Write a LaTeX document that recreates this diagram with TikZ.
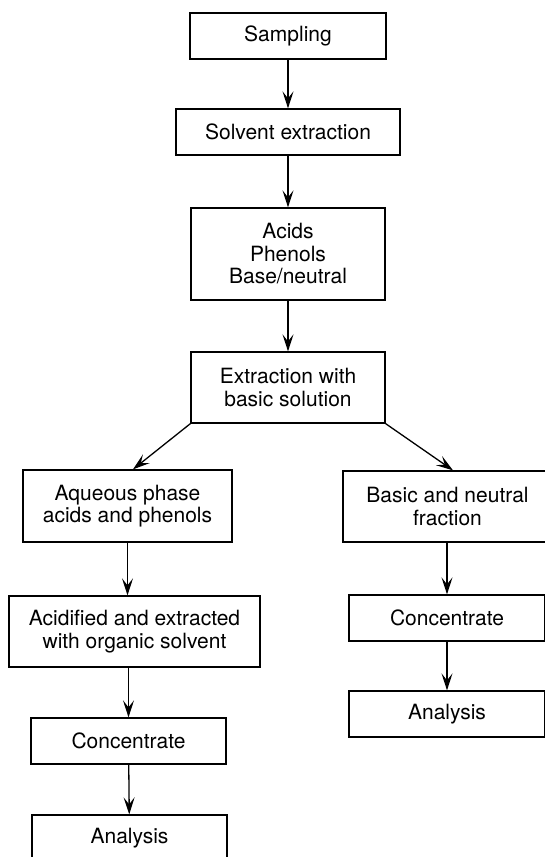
\documentclass[tikz,border=0pt]{standalone}
\usepackage{fontspec}
\setmainfont{TeX Gyre Heros}
\usetikzlibrary{arrows.meta,calc}
\begin{document}
\begin{tikzpicture}[x=1pt,y=-1pt,
  box/.style={draw, line width=1.3pt, inner sep=0pt, align=center,
    font=\fontsize{21}{22.5}\selectfont},
  arr/.style={line width=1.3pt, -{Stealth[length=17pt,width=11pt,inset=7pt]}}]
\useasboundingbox (0,0) rectangle (544,857);
\node[box, minimum width=196pt, minimum height=46pt] (samp) at (288,36) {Sampling};
\node[box, minimum width=224pt, minimum height=46pt] (solv) at (288,132) {Solvent extraction};
\node[box, minimum width=194pt, minimum height=92pt] (acids) at (288,254) {Acids\\Phenols\\Base/neutral};
\node[box, minimum width=194pt, minimum height=71pt] (extr) at (288,387.5) {Extraction with\\basic solution};
\node[box, minimum width=209pt, minimum height=72pt] (aque) at (127.5,506) {Aqueous phase\\acids and phenols};
\node[box, minimum width=209pt, minimum height=71pt] (basic) at (447.5,506.5) {Basic and neutral\\fraction};
\node[box, minimum width=251pt, minimum height=71pt] (acidi) at (134.5,631.5) {Acidified and extracted\\with organic solvent};
\node[box, minimum width=195pt, minimum height=46pt] (concL) at (128.5,741) {Concentrate};
\node[box, minimum width=195pt, minimum height=46pt] (analL) at (129.5,838) {Analysis};
\node[box, minimum width=196pt, minimum height=46pt] (concR) at (447,618) {Concentrate};
\node[box, minimum width=196pt, minimum height=46pt] (analR) at (447,714) {Analysis};
\draw[arr] (samp) -- (solv);
\draw[arr] (solv) -- (acids);
\draw[arr] (acids) -- (extr);
\draw[arr] (extr.south west) -- ([xshift=5.5pt]aque.north);
\draw[arr] (extr.south east) -- ([xshift=5.5pt]basic.north);
\draw[arr] (aque.south) -- (aque.south |- acidi.north);
\draw[arr] (concL.north |- acidi.south) -- (concL.north);
\draw[arr] (concL) -- (analL);
\draw[arr] (concR.north |- basic.south) -- (concR.north);
\draw[arr] (concR) -- (analR);
\end{tikzpicture}
\end{document}
